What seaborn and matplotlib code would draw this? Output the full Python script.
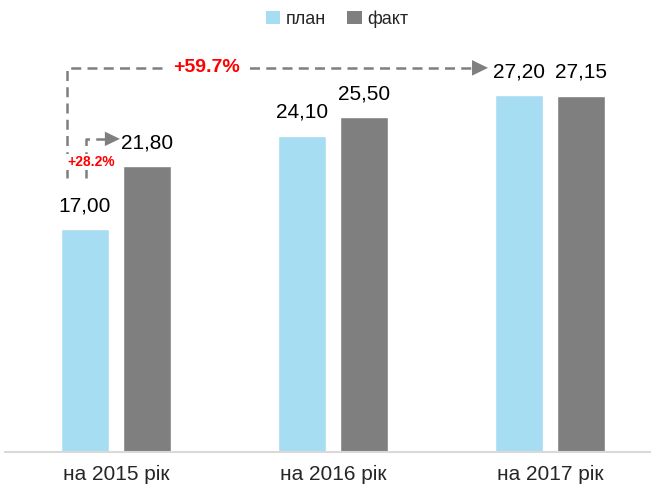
import matplotlib
matplotlib.use("Agg")
import matplotlib.pyplot as plt
import seaborn as sns
import pandas as pd
from matplotlib.patches import Patch

categories = ["на 2015 рік", "на 2016 рік", "на 2017 рік"]
series_names = ["план", "факт"]
plan = [17.00, 24.10, 27.20]
fact = [21.80, 25.50, 27.15]
growth_labels = ["+59.7%", "+28.2%"]
colors = ["#A6DDF3", "#7F7F7F"]

sns.set_theme(style="white")
plt.rcParams["font.family"] = ["Liberation Sans Narrow", "Liberation Sans", "DejaVu Sans"]

df = pd.DataFrame({
    "cat": categories * 2,
    "series": [series_names[0]] * 3 + [series_names[1]] * 3,
    "value": plan + fact,
})

fig = plt.figure(figsize=(6.52, 4.99), dpi=100)
ax = fig.add_axes([5 / 652, 47 / 499, 645 / 652, 0.789])

sns.barplot(data=df, x="cat", y="value", hue="series", palette=colors,
            width=0.572, gap=0.227, ax=ax, legend=False, saturation=1)

for cont in ax.containers:
    labs = [f"{b.get_height():.2f}".replace(".", ",") for b in cont]
    ax.bar_label(cont, labels=labs, padding=10, fontsize=15, color="black")

ax.set_xlim(-0.51, 2.46)
ax.set_ylim(0, 30)
ax.set_xlabel("")
ax.set_ylabel("")
ax.set_yticks([])
ax.tick_params(axis="x", length=0, pad=9, labelsize=15)
for s in ["left", "right", "top"]:
    ax.spines[s].set_visible(False)
ax.spines["bottom"].set_color("#D9D9D9")
ax.spines["bottom"].set_linewidth(1.5)

gray = "#7F7F7F"
dash = (0, (4, 2.5))
y_bot = 20.88
# big arrow: from plan 2015 up and across to 2017
x0 = -0.225
y_top = 29.27
ax.plot([x0, x0, 1.640], [y_bot, y_top, y_top], color=gray, lw=1.8,
        linestyle=dash, dash_capstyle="butt", zorder=3)
ax.annotate("", xy=(1.714, y_top), xytext=(1.640, y_top),
            arrowprops=dict(arrowstyle="-|>,head_length=1.15,head_width=0.56",
                            color=gray, lw=0, mutation_scale=10,
                            shrinkA=0, shrinkB=0), zorder=3)
ax.text(0.42, y_top, growth_labels[0], color="#FF0000", fontsize=14,
        fontweight="bold", ha="center", va="center", zorder=4,
        bbox=dict(facecolor="white", edgecolor="none", pad=4))

# small arrow: plan 2015 -> fact 2015
x1 = -0.137
y_s = 23.86
ax.plot([x1, x1, -0.050], [y_bot, y_s, y_s], color=gray, lw=1.8,
        linestyle=dash, dash_capstyle="butt", zorder=3)
ax.annotate("", xy=(0.019, y_s), xytext=(-0.050, y_s),
            arrowprops=dict(arrowstyle="-|>,head_length=1.08,head_width=0.52",
                            color=gray, lw=0, mutation_scale=10,
                            shrinkA=0, shrinkB=0), zorder=3)
ax.text(-0.113, 22.1, growth_labels[1], color="#FF0000", fontsize=10,
        fontweight="bold", ha="center", va="center", zorder=4,
        bbox=dict(facecolor="white", edgecolor="none", pad=1))

handles = [Patch(facecolor=c, edgecolor="none") for c in colors]
fig.legend(handles, series_names, loc="center", bbox_to_anchor=(0.517, 0.962),
           ncol=2, frameon=False, fontsize=13, handlelength=0.8,
           handleheight=0.8, handletextpad=0.3, columnspacing=1.2)

fig.savefig("out.png", dpi=100)
